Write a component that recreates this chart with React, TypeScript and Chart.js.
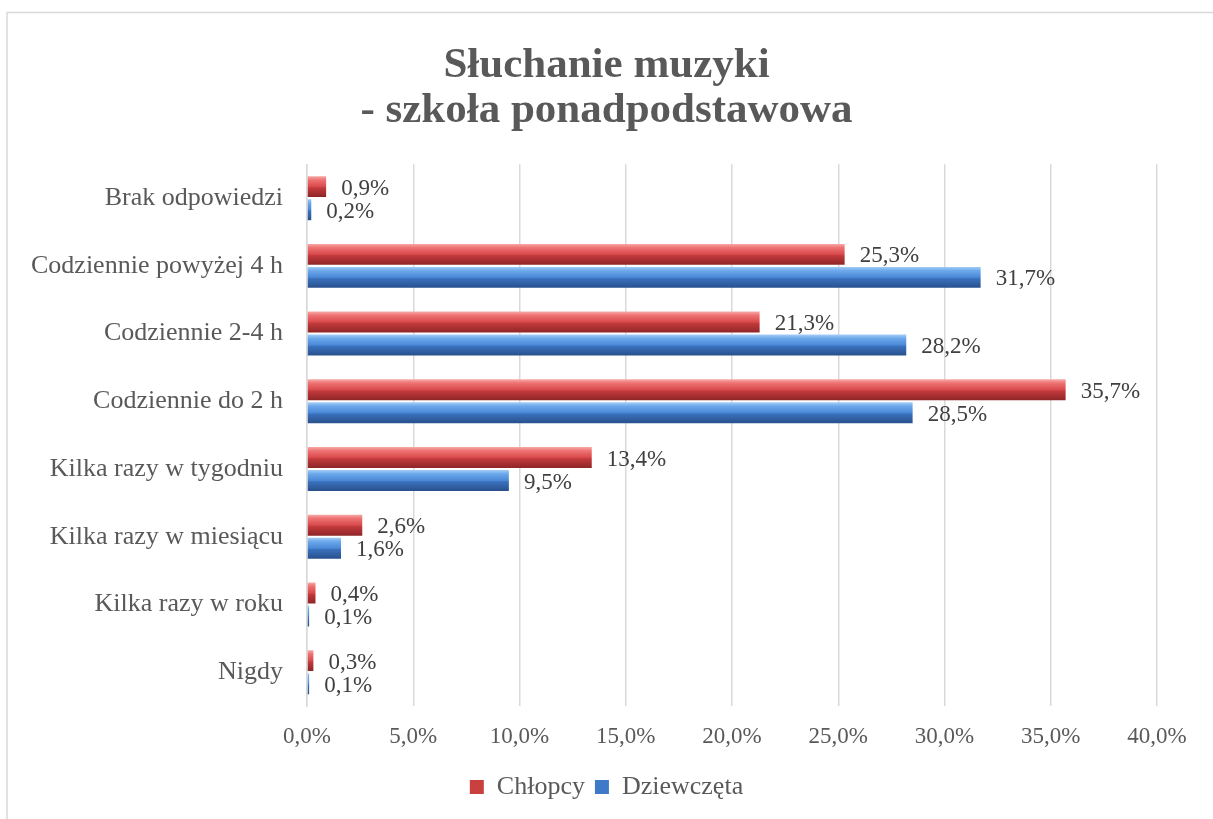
import React, { useEffect, useRef } from "react";
import { Chart, registerables } from "chart.js";

Chart.register(...registerables);

const categories = [
  "Brak odpowiedzi",
  "Codziennie powyżej 4 h",
  "Codziennie 2-4 h",
  "Codziennie do 2 h",
  "Kilka razy w tygodniu",
  "Kilka razy w miesiącu",
  "Kilka razy w roku",
  "Nigdy",
];
const chlopcy = [0.9, 25.3, 21.3, 35.7, 13.4, 2.6, 0.4, 0.3];
const dziewczeta = [0.2, 31.7, 28.2, 28.5, 9.5, 1.6, 0.1, 0.1];
const seriesNames = ["Chłopcy", "Dziewczęta"];
const titleLines = ["Słuchanie muzyki", "- szkoła ponadpodstawowa"];

const FONT = "'Liberation Serif', 'Times New Roman', serif";
const fmt = (v: number) => v.toFixed(1).replace(".", ",") + "%";

const gradStops: Record<number, [number, string][]> = {
  0: [
    [0, "#f7aaa8"],
    [0.18, "#ee7272"],
    [0.5, "#d94a4c"],
    [0.56, "#c23a3c"],
    [1, "#8e2527"],
  ],
  1: [
    [0, "#a4cdf6"],
    [0.18, "#6ca8eb"],
    [0.5, "#4a88d7"],
    [0.56, "#3a71bd"],
    [1, "#28508c"],
  ],
};

const bevelPlugin = {
  id: "bevel",
  beforeDatasetsDraw(chart: any) {
    const ctx = chart.ctx;
    chart.data.datasets.forEach((_ds: any, di: number) => {
      const meta = chart.getDatasetMeta(di);
      meta.data.forEach((el: any) => {
        const { y, height } = el.getProps(["y", "height"], true);
        const g = ctx.createLinearGradient(0, y - height / 2, 0, y + height / 2);
        gradStops[di].forEach(([o, c]) => g.addColorStop(o, c));
        el.options = Object.assign({}, el.options, { backgroundColor: g });
      });
    });
  },
};

const labelsPlugin = {
  id: "valueLabels",
  afterDatasetsDraw(chart: any) {
    const ctx = chart.ctx;
    ctx.save();
    ctx.font = `23px ${FONT}`;
    ctx.fillStyle = "#404040";
    ctx.textBaseline = "middle";
    ctx.textAlign = "left";
    chart.data.datasets.forEach((ds: any, di: number) => {
      const meta = chart.getDatasetMeta(di);
      meta.data.forEach((el: any, i: number) => {
        const { x, y } = el.getProps(["x", "y"], true);
        ctx.fillText(fmt(ds.data[i]), x + 15, y + 2);
      });
    });
    ctx.restore();
  },
};

const framePlugin = {
  id: "frame",
  beforeDraw(chart: any) {
    const ctx = chart.ctx;
    ctx.save();
    ctx.fillStyle = "#ffffff";
    ctx.fillRect(0, 0, chart.width, chart.height);
    ctx.strokeStyle = "#d9d9d9";
    ctx.lineWidth = 1.5;
    ctx.beginPath();
    ctx.moveTo(7, chart.height + 5);
    ctx.lineTo(7, 12.5);
    ctx.lineTo(chart.width + 5, 12.5);
    ctx.stroke();
    ctx.restore();
  },
};

export default function App() {
  const ref = useRef<HTMLCanvasElement>(null);
  useEffect(() => {
    if (!ref.current) return;
    const chart = new Chart(ref.current, {
      type: "bar",
      data: {
        labels: categories,
        datasets: [
          { label: seriesNames[0], data: chlopcy, backgroundColor: "#c9403f", borderWidth: 0 },
          { label: seriesNames[1], data: dziewczeta, backgroundColor: "#3f7ac8", borderWidth: 0 },
        ],
      },
      options: {
        indexAxis: "y",
        responsive: false,
        animation: false,
        categoryPercentage: 0.68,
        barPercentage: 0.91,
        layout: { padding: { left: 0, right: 0, top: 0, bottom: 9 } },
        plugins: {
          title: {
            display: true,
            text: titleLines,
            color: "#595959",
            font: { family: FONT, size: 43, weight: "bold", lineHeight: 1.05 },
            padding: { top: 43, bottom: 31 },
          },
          legend: {
            position: "bottom",
            labels: {
              color: "#595959",
              font: { family: FONT, size: 26 },
              boxWidth: 14,
              boxHeight: 14,
              padding: 10,
            },
          },
          tooltip: { enabled: false },
        },
        scales: {
          x: {
            min: 0,
            max: 40,
            ticks: {
              stepSize: 5,
              callback: (v: any) => fmt(Number(v)),
              color: "#595959",
              font: { family: FONT, size: 23 },
              padding: 17,
            },
            grid: { color: "#d9d9d9", drawTicks: false, lineWidth: 1.5 },
            border: { display: false },
            afterFit: (s: any) => {
              s.height = 58;
              s.paddingRight = 56;
            },
          },
          y: {
            ticks: {
              color: "#595959",
              font: { family: FONT, size: 26 },
              padding: 24,
            },
            grid: { display: false, drawTicks: false },
            border: { display: true, color: "#d9d9d9", width: 1.5 },
            afterFit: (s: any) => {
              s.width = 307;
            },
          },
        },
      },
      plugins: [framePlugin, bevelPlugin, labelsPlugin],
    } as any);
    return () => chart.destroy();
  }, []);
  return (
    <div style={{ position: "fixed", left: 0, top: 0, width: 1213, height: 819 }}>
      <canvas ref={ref} width={1213} height={819} style={{ width: 1213, height: 819, display: "block" }} />
    </div>
  );
}
